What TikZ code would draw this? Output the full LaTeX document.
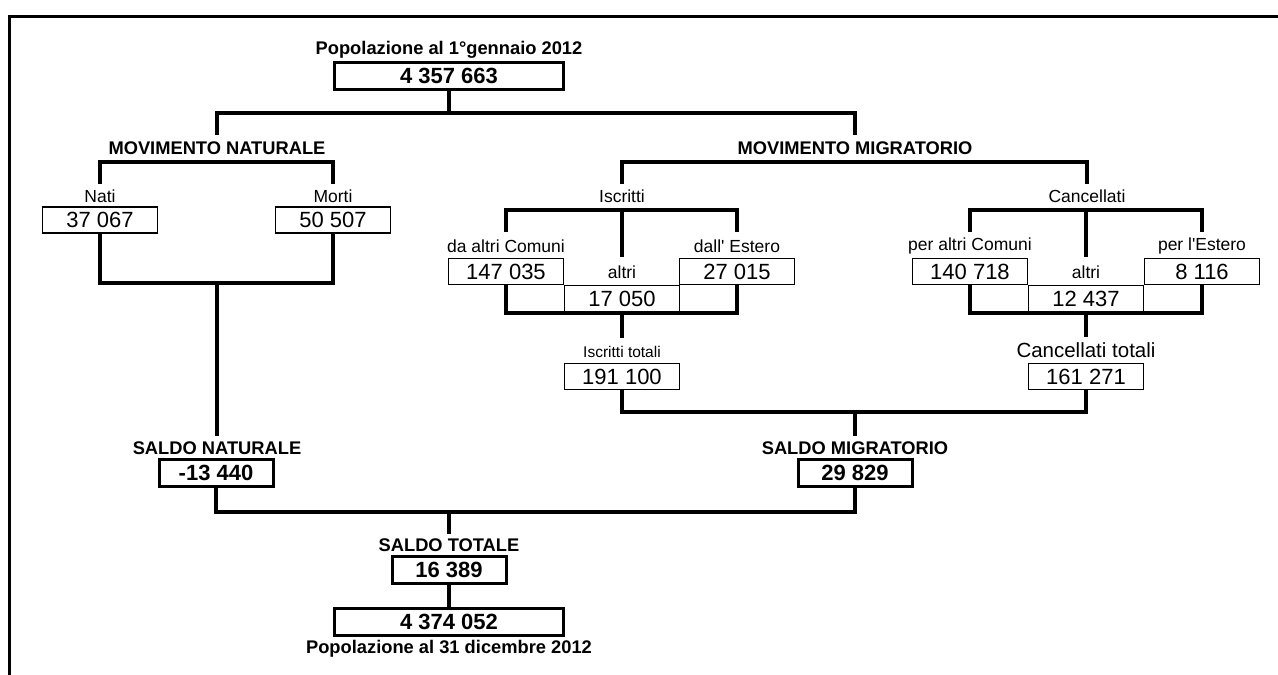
\documentclass[tikz,border=0pt]{standalone}
\usepackage{fontspec}
\setmainfont{Liberation Sans}[Ligatures=TeXOff]
\usetikzlibrary{positioning}

\begin{document}
\begin{tikzpicture}[
  x=1pt, y=-1pt,
  conn/.style={line width=4pt},
  frame/.style={line width=3pt},
  numbox/.style={draw, line width=1.7pt, minimum width=115pt, minimum height=26pt,
    inner sep=0pt, font=\fontsize{22}{24}\selectfont},
  boldbox/.style={draw, line width=3pt, minimum width=114pt, minimum height=27pt,
    inner sep=0pt, font=\bfseries\fontsize{22}{24}\selectfont},
  popbox/.style={boldbox, minimum width=229pt},
  lbl/.style={inner sep=0pt, font=\fontsize{17.5}{19}\selectfont},
  hdr/.style={inner sep=0pt, font=\bfseries\fontsize{18.3}{20}\selectfont}
]
\useasboundingbox (0,0) rectangle (1278,675);
\draw[frame] (9,675) |- (1278,16);

% popolazione iniziale
\node[hdr] (popini) at (449,50) {Popolazione al 1°gennaio 2012};
\node[popbox] (pop0) at (449,76) {4 357 663};
\node[hdr] (movnat) at (217,148) {MOVIMENTO NATURALE};
\node[hdr] (movmig) at (855,148) {MOVIMENTO MIGRATORIO};
\coordinate (jtop) at (449,113);
\coordinate (natup) at (217,135);
\coordinate (migup) at (855,135);
\draw[conn] (pop0) -- (jtop);
\draw[conn] (natup) |- (jtop) -| (migup);

% movimento naturale
\node[lbl] (natilbl) at (100,196) {Nati};
\node[lbl] (mortilbl) at (333,196) {Morti};
\node[numbox] (nati) at (100,220) {37 067};
\node[numbox] (morti) at (333,220) {50 507};
\coordinate (natbr) at (217,162);
\coordinate (natiup) at (100,184);
\coordinate (mortiup) at (333,184);
\draw[conn] (natiup) |- (natbr) -| (mortiup);
\coordinate (natjoin) at (217,283);
\draw[conn] (nati) |- (natjoin) -| (morti);
\node[hdr] (saldonatlbl) at (217,448) {SALDO NATURALE};
\node[boldbox] (saldonat) at (216,473) {-13 440};
\coordinate (saldonatup) at (217,436);
\draw[conn] (natjoin) -- (saldonatup);

% movimento migratorio
\node[lbl] (iscrlbl) at (622,196) {Iscritti};
\node[lbl] (canclbl) at (1087,196) {Cancellati};
\coordinate (migbr) at (855,162);
\coordinate (iscrup) at (622,184);
\coordinate (cancup) at (1087,184);
\draw[conn] (iscrup) |- (migbr) -| (cancup);

% iscritti
\node[lbl] (dacomlbl) at (506,246) {da altri Comuni};
\node[lbl] (altriilbl) at (622,272) {altri};
\node[lbl] (dallestlbl) at (737,246) {dall' Estero};
\node[numbox] (dacom) at (506,271.5) {147 035};
\node[numbox] (altrii) at (622,298.5) {17 050};
\node[numbox] (dallest) at (737,271.5) {27 015};
\coordinate (iscrbr) at (622,210);
\coordinate (dacomup) at (506,232);
\coordinate (altriiup) at (622,257);
\coordinate (dallestup) at (737,232);
\draw[conn] (dacomup) |- (iscrbr) -| (dallestup);
\draw[conn] (iscrbr) -- (altriiup);
\coordinate (iscrjoin) at (622,313);
\coordinate (iscrtotup) at (622,338);
\draw[conn] (dacom) |- (iscrjoin) -| (dallest);
\draw[conn] (iscrjoin) -- (iscrtotup);
\node[lbl, font=\fontsize{15.5}{17}\selectfont] (iscrtotlbl) at (622,352) {Iscritti totali};
\node[numbox] (iscrtot) at (622,376.5) {191 100};

% cancellati
\node[lbl] (percomlbl) at (970,246) {per altri Comuni};
\node[lbl] (altriclbl) at (1086,272) {altri};
\node[lbl] (perestlbl) at (1202,246) {per l'Estero};
\node[numbox] (percom) at (970,271.5) {140 718};
\node[numbox] (altric) at (1086,298.5) {12 437};
\node[numbox] (perest) at (1202,271.5) {8 116};
\coordinate (cancbr) at (1086,210);
\coordinate (percomup) at (970,232);
\coordinate (altricup) at (1086,257);
\coordinate (perestup) at (1202,232);
\draw[conn] (percomup) |- (cancbr) -| (perestup);
\draw[conn] (cancbr) -- (altricup);
\coordinate (cancjoin) at (1086,313);
\coordinate (canctotup) at (1086,337);
\draw[conn] (percom) |- (cancjoin) -| (perest);
\draw[conn] (cancjoin) -- (canctotup);
\node[lbl, font=\fontsize{20.5}{22}\selectfont] (canctotlbl) at (1086,350) {Cancellati totali};
\node[numbox] (canctot) at (1086,376.5) {161 271};

% saldo migratorio
\coordinate (migjoin) at (855,412);
\draw[conn] (iscrtot) |- (migjoin) -| (canctot);
\node[hdr] (saldomiglbl) at (855,448) {SALDO MIGRATORIO};
\node[boldbox] (saldomig) at (855,473) {29 829};
\coordinate (saldomigup) at (855,436);
\draw[conn] (migjoin) -- (saldomigup);

% saldo totale
\coordinate (totjoin) at (449,512);
\draw[conn] (saldonat) |- (totjoin) -| (saldomig);
\node[hdr] (saldototlbl) at (449,545) {SALDO TOTALE};
\node[boldbox] (saldotot) at (449,570) {16 389};
\coordinate (saldototup) at (449,534);
\draw[conn] (totjoin) -- (saldototup);
\node[popbox] (pop1) at (449,622) {4 374 052};
\draw[conn] (saldotot) -- (pop1);
\node[hdr] (popfin) at (449,649) {Popolazione al 31 dicembre 2012};
\end{tikzpicture}
\end{document}
